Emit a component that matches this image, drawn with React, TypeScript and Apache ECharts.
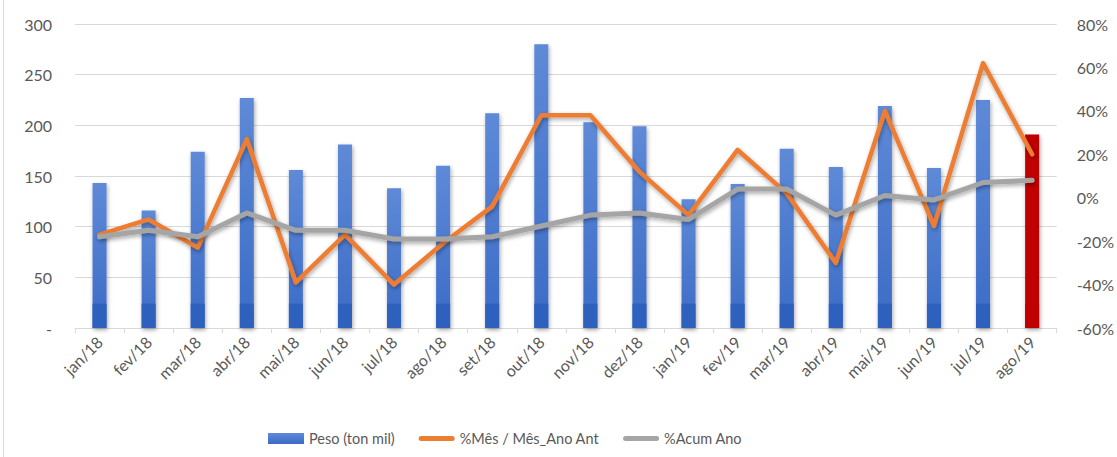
import React, { useEffect, useRef } from 'react';
import * as echarts from 'echarts';

const categories = ['jan/18', 'fev/18', 'mar/18', 'abr/18', 'mai/18', 'jun/18', 'jul/18', 'ago/18', 'set/18', 'out/18', 'nov/18', 'dez/18', 'jan/19', 'fev/19', 'mar/19', 'abr/19', 'mai/19', 'jun/19', 'jul/19', 'ago/19'];
const peso = [143, 116, 174, 227, 156, 181, 138, 160, 212, 280, 203, 199, 127, 142, 177, 159, 219, 158, 225, 191];
const mesAnoAnt = [-17, -10, -23, 27, -39, -17, -40, -21, -4, 38, 38, 12, -8, 22, 2, -30, 40, -13, 62, 20];
const acumAno = [-18, -15, -18, -7, -15, -15, -19, -19, -18, -13, -8, -7, -10, 4, 4, -8, 1, -1, 7, 8];

const seriesNames = ['Peso (ton mil)', '%Mês / Mês_Ano Ant', '%Acum Ano'];
const BAND = 24;
const FONT = 'Lato, "Open Sans", sans-serif';
const TXT = '#595959';
const GRID = '#d9d9d9';
const LINE_ICON = 'path://M2.5,0 L33.5,0 A2.5,2.5 0 0 1 33.5,5 L2.5,5 A2.5,2.5 0 0 1 2.5,0 Z';

export default function App() {
  const ref = useRef<HTMLDivElement>(null);
  useEffect(() => {
    const chart = echarts.init(ref.current!, null, { renderer: 'svg' });
    const lastIdx = peso.length - 1;
    const barGrad = new echarts.graphic.LinearGradient(0, 0, 0, 1, [
      { offset: 0, color: '#5e8ad7' },
      { offset: 1, color: '#3b6bc6' },
    ]);
    const shadow = { shadowBlur: 4, shadowColor: 'rgba(0,0,0,0.35)', shadowOffsetX: 1, shadowOffsetY: 2 };
    chart.setOption({
      animation: false,
      textStyle: { fontFamily: FONT },
      graphic: [
        {
          type: 'line',
          shape: { x1: 3.5, y1: 0, x2: 3.5, y2: 457 },
          style: { stroke: GRID, lineWidth: 1 },
          silent: true,
        },
      ],
      grid: { left: 75, right: 60, top: 24, bottom: 129 },
      legend: {
        data: [
          { name: seriesNames[0], icon: 'rect' },
          { name: seriesNames[1], icon: LINE_ICON },
          { name: seriesNames[2], icon: LINE_ICON },
        ],
        left: 263,
        top: 426,
        itemWidth: 36,
        itemHeight: 11,
        itemGap: 24,
        symbolKeepAspect: true,
        textStyle: { color: TXT, fontSize: 14.5, fontFamily: FONT },
      },
      xAxis: {
        type: 'category',
        data: categories,
        axisLine: { lineStyle: { color: GRID, width: 1 } },
        axisTick: { show: true, length: 5, lineStyle: { color: GRID } },
        axisLabel: { rotate: 45, color: TXT, fontSize: 16, margin: 11, fontFamily: FONT, interval: 0 },
      },
      yAxis: [
        {
          type: 'value',
          min: 0,
          max: 300,
          interval: 50,
          axisLine: { show: false },
          axisTick: { show: false },
          splitLine: { lineStyle: { color: GRID, width: 1 } },
          axisLabel: {
            color: TXT,
            fontSize: 16,
            margin: 23,
            fontFamily: FONT,
            formatter: (v: number) => (v === 0 ? '-' : String(v)),
          },
        },
        {
          type: 'value',
          min: -60,
          max: 80,
          interval: 20,
          axisLine: { show: false },
          axisTick: { show: false },
          splitLine: { show: false },
          axisLabel: {
            color: TXT,
            fontSize: 16,
            margin: 20,
            fontFamily: FONT,
            formatter: (v: number) => `${v}%`,
          },
        },
      ],
      series: [
        {
          name: seriesNames[0],
          type: 'bar',
          yAxisIndex: 0,
          barWidth: 14,
          itemStyle: { color: barGrad, ...shadow },
          data: peso.map((v, i) =>
            i === lastIdx ? { value: v, itemStyle: { color: '#c00000' } } : v
          ),
          z: 2,
        },
        {
          name: 'base',
          type: 'bar',
          yAxisIndex: 0,
          barWidth: 14,
          barGap: '-100%',
          itemStyle: { color: '#2e60bd' },
          data: peso.map((v, i) =>
            i === lastIdx
              ? { value: Math.min(v, BAND), itemStyle: { color: '#c00000' } }
              : Math.min(v, BAND)
          ),
          z: 3,
        },
        {
          name: seriesNames[1],
          type: 'line',
          yAxisIndex: 1,
          symbol: 'none',
          data: mesAnoAnt,
          itemStyle: { color: '#ed7d31' },
          lineStyle: { color: '#ed7d31', width: 4.5, cap: 'round', join: 'round', ...shadow },
          z: 4,
        },
        {
          name: seriesNames[2],
          type: 'line',
          yAxisIndex: 1,
          symbol: 'none',
          data: acumAno,
          itemStyle: { color: '#a5a5a5' },
          lineStyle: { color: '#a5a5a5', width: 5, cap: 'round', join: 'round', ...shadow },
          z: 5,
        },
      ],
    });
    return () => chart.dispose();
  }, []);
  return <div ref={ref} style={{ position: 'absolute', left: 0, top: 0, width: 1117, height: 457 }} />;
}
